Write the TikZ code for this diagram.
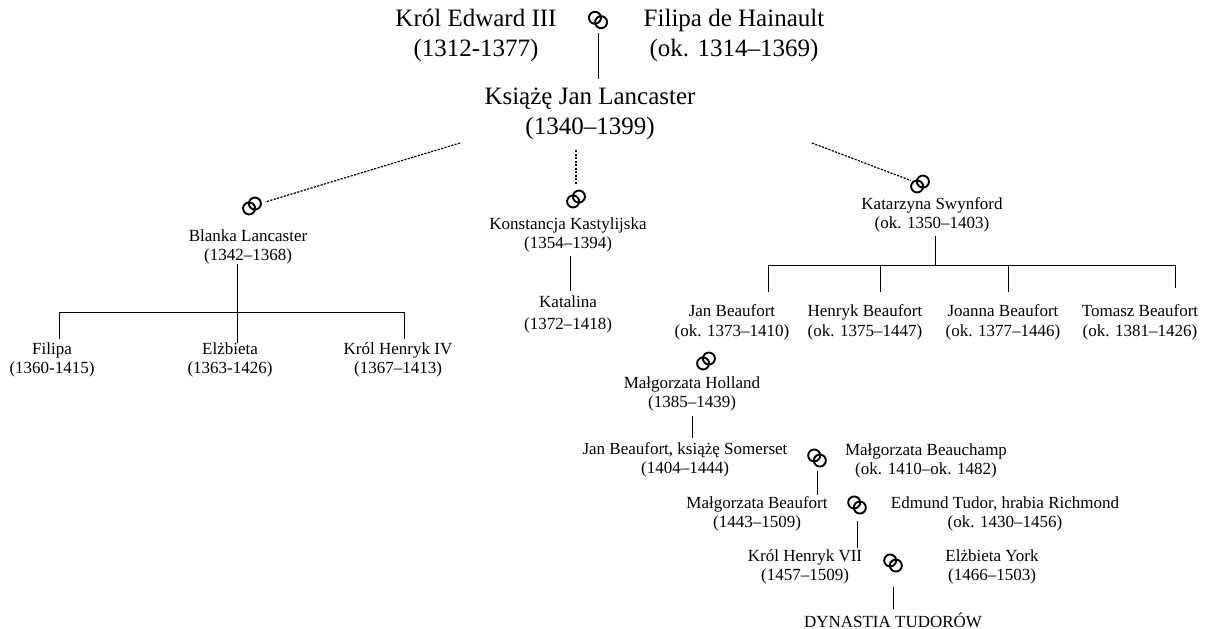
\documentclass[tikz,border=0pt]{standalone}
\usepackage{fontspec}
\setmainfont{Liberation Serif}
\tikzset{
  big/.style={font=\fontsize{25}{30}\selectfont, align=center, inner sep=0pt},
  small/.style={font=\fontsize{17}{19}\selectfont, align=center, inner sep=0pt},
  ringnode/.style={minimum size=22pt, inner sep=0pt},
  ringline/.style={line width=1.9pt},
  link/.style={line width=1pt},
  dotlink/.style={line width=1.2pt, dash pattern=on 2.2pt off 1.3pt},
}
\newcommand\marry[3]{%
  \node[ringnode] (#1) at (#2) {};
  \draw[ringline, shift={(#1.center)}, rotate=#3]
    (-3.8,0) circle[radius=6] (3.8,0) circle[radius=6];}
\begin{document}
\begin{tikzpicture}[x=1pt, y=-1pt]
\useasboundingbox (0,0) rectangle (1213,629);

% generation 0
\node[big] (edward) at (476,35) {Król Edward III\\(1312-1377)};
\marry{m0}{598,20}{-36}
\node[big] (filipaH) at (734,35) {Filipa de Hainault\\(ok. 1314–1369)};
\node[big] (jan) at (590,114) {Książę Jan Lancaster\\(1340–1399)};
\draw[link, shorten <=2pt, shorten >=9pt] (m0.south) -- (m0.south |- jan.north);

% wives
\marry{m1}{252,206}{40}
\marry{m2}{576,199}{40}
\marry{m3}{920,184}{40}
\coordinate (dl) at (460,143);
\coordinate (dr) at (812,143);
\draw[dotlink, shorten >=14pt] (dl) -- (m1.center);
\draw[dotlink, shorten <=10pt, shorten >=4pt] (m2.north |- jan.south) -- (m2.north);
\draw[dotlink, shorten >=10pt] (dr) -- (m3.center);

% Blanka
\node[small] (blanka) at (248,247) {Blanka Lancaster\\(1342–1368)};
\node[small] (filipa) at (52,360) {Filipa\\(1360-1415)};
\node[small] (elzbieta) at (230,360) {Elżbieta\\(1363-1426)};
\node[small] (henryk4) at (398,360) {Król Henryk IV\\(1367–1413)};
\coordinate (bl) at (59,312);
\coordinate (bm) at (237,312);
\coordinate (br) at (404,312);
\draw[link] (bl) -- (br);
\draw[link] (bm |- blanka.south) -- (bm |- elzbieta.north);
\draw[link, shorten >=4pt] (bl) -- (bl |- filipa.north);
\draw[link, shorten >=4pt] (br) -- (br |- henryk4.north);

% Konstancja
\node[small] (konst) at (568,235) {Konstancja Kastylijska\\(1354–1394)};
\node[small] (katalina) at (568,314) {Katalina\\[3pt](1372–1418)};
\coordinate (kx) at (570,0);
\draw[link, shorten <=4pt, shorten >=4pt] (kx |- konst.south) -- (kx |- katalina.north);

% Katarzyna
\node[small] (katarz) at (932,215) {Katarzyna Swynford\\(ok. 1350–1403)};
\node[small] (janB) at (732,322) {Jan Beaufort\\[1pt](ok. 1373–1410)};
\node[small] (henrykB) at (865,322) {Henryk Beaufort\\[1pt](ok. 1375–1447)};
\node[small] (joanna) at (1003,322) {Joanna Beaufort\\[1pt](ok. 1377–1446)};
\node[small] (tomasz) at (1140,322) {Tomasz Beaufort\\[1pt](ok. 1381–1426)};
\coordinate (k1) at (768,265);
\coordinate (k2) at (880,265);
\coordinate (k3) at (1008,265);
\coordinate (k4) at (1175,265);
\coordinate (km) at (935,265);
\draw[link] (k1) -- (k4);
\draw[link, shorten <=4pt] (km |- katarz.south) -- (km);
\draw[link, shorten >=12pt] (k1) -- (k1 |- janB.north);
\draw[link, shorten >=12pt] (k2) -- (k2 |- henrykB.north);
\draw[link, shorten >=12pt] (k3) -- (k3 |- joanna.north);
\draw[link, shorten >=16pt] (k4) -- (k4 |- tomasz.north);

% Holland line
\marry{m4}{706,361}{40}
\node[small] (holland) at (692,394) {Małgorzata Holland\\(1385–1439)};
\node[small] (somerset) at (685,460) {Jan Beaufort, książę Somerset\\(1404–1444)};
\coordinate (hx) at (692,0);
\draw[link, shorten <=5pt, shorten >=5pt] (hx |- holland.south) -- (hx |- somerset.north);
\marry{m5}{817,458}{-42}
\node[small] (beauchamp) at (926,461) {Małgorzata Beauchamp\\(ok. 1410–ok. 1482)};
\node[small] (mbeaufort) at (757,514) {Małgorzata Beaufort\\(1443–1509)};
\draw[link, shorten <=2pt, shorten >=2pt] (m5.south) -- (m5.south |- mbeaufort.north);
\marry{m6}{857,505}{-42}
\node[small] (edmund) at (1005,514) {Edmund Tudor, hrabia Richmond\\(ok. 1430–1456)};
\node[small] (henryk7) at (805,567) {Król Henryk VII\\(1457–1509)};
\draw[link, shorten <=5pt, shorten >=2pt] (m6.south) -- (m6.south |- henryk7.north);
\marry{m7}{893,563}{-42}
\node[small] (york) at (992,567) {Elżbieta York\\(1466–1503)};
\node[small] (tudor) at (893,620) {DYNASTIA TUDORÓW};
\draw[link, shorten <=13pt, shorten >=3pt] (m7.south) -- (m7.south |- tudor.north);
\end{tikzpicture}
\end{document}
